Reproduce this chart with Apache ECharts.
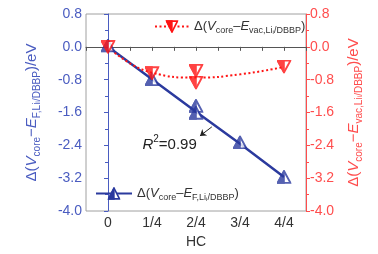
<!DOCTYPE html>
<html>
<head>
<meta charset="utf-8">
<script src="https://cdn.jsdelivr.net/npm/echarts@6/dist/echarts.min.js"></script>
<style>
  html, body { margin: 0; padding: 0; background: #fff; }
  #chart { width: 378px; height: 254px; }
</style>
</head>
<body>
<div id="chart"></div>
<script>
// HC tick labels (x positions 0..4)
var hcLabels = ["0", "1/4", "2/4", "3/4", "4/4"];
var hcPos = [0, 1, 2, 3, 4];

// Δ(Vcore - E_F) measured points (left axis)
var fermiX = [0, 1, 2, 2, 3, 4];
var fermiY = [0.03, -0.79, -1.44, -1.61, -2.33, -3.17];
// linear fit line through them
var fermiFit = [0, -0.79, -1.58, -2.36, -3.17];

// Δ(Vcore - E_vac) measured points (right axis)
var vacX = [0, 1, 2, 2, 4];
var vacY = [0, -0.64, -0.58, -0.87, -0.48];
// dotted fit curve
var vacFit = [0, -0.63, -0.75, -0.67, -0.49];

var blue = "#2b3a9e";
var blueAxis = "#4a5cc0";
var red = "#ff1414";
var redAxis = "#ff4d4d";

// half filled triangle markers (left half solid, right half white)
function halfTri(color, down) {
  var pts = down ? "1,1 13,1 7,12" : "7,1 13,12 1,12";
  var half = down ? "1,1 7,1 7,12" : "7,1 7,12 1,12";
  var svg = '<svg xmlns="http://www.w3.org/2000/svg" width="14" height="13" viewBox="0 0 14 13">' +
    '<polygon points="' + pts + '" fill="#fff" stroke="' + color + '" stroke-width="1.8"/>' +
    '<polygon points="' + half + '" fill="' + color + '" stroke="' + color + '" stroke-width="1.5"/>' +
    '</svg>';
  return "image://data:image/svg+xml;charset=utf-8," + encodeURIComponent(svg);
}
var blueSym = halfTri(blue, false);
var redSym = halfTri(red, true);

function pairs(xs, ys) {
  return xs.map(function (x, i) { return [x, ys[i]]; });
}

var subRich = {
  d: { fontSize: 15, lineHeight: 20, verticalAlign: "middle" },
  i: { fontSize: 15, fontStyle: "italic", lineHeight: 20, verticalAlign: "middle" },
  s: { fontSize: 10, lineHeight: 20, verticalAlign: "bottom" },
  ss: { fontSize: 7, lineHeight: 20, verticalAlign: "bottom" }
};
var legendRich = {
  d: { fontSize: 13, lineHeight: 18, verticalAlign: "middle" },
  i: { fontSize: 13, fontStyle: "italic", lineHeight: 18, verticalAlign: "middle" },
  s: { fontSize: 9, lineHeight: 18, verticalAlign: "bottom" },
  ss: { fontSize: 6, lineHeight: 18, verticalAlign: "bottom" }
};

function colored(rich, color) {
  var out = {};
  Object.keys(rich).forEach(function (k) {
    out[k] = Object.assign({}, rich[k], { color: color });
  });
  return out;
}

var chart = echarts.init(document.getElementById("chart"));

var yAxisBase = {
  type: "value",
  min: -4,
  max: 0.8,
  interval: 0.8,
  nameLocation: "middle",
  nameRotate: 90,
  splitLine: { show: false },
  axisTick: { show: true, length: 4, inside: false },
  minorTick: { show: true, splitNumber: 2, length: 3 },
  axisLabel: {
    fontSize: 14,
    margin: 4,
    formatter: function (v) { return v.toFixed(1); }
  }
};

var option = {
  animation: false,
  textStyle: { fontFamily: "Liberation Sans" },
  grid: {
    left: 86, right: 72, top: 14, bottom: 43,
    show: true, borderColor: "#a0a0a0", borderWidth: 1
  },
  xAxis: {
    type: "value",
    min: -0.5,
    max: 4.5,
    interval: 0.5,
    name: "HC",
    nameLocation: "middle",
    nameGap: 21,
    nameTextStyle: { fontSize: 14, color: "#333" },
    splitLine: { show: false },
    axisLine: { lineStyle: { color: "#555" } },
    axisTick: { length: 4, lineStyle: { color: "#555" } },
    axisLabel: {
      fontSize: 14,
      color: "#333",
      margin: 5,
      formatter: function (v) {
        var k = hcPos.indexOf(v);
        return k >= 0 ? hcLabels[k] : "";
      }
    }
  },
  yAxis: [
    Object.assign({}, yAxisBase, {
      position: "left",
      name: "{d|Δ(}{i|V}{s|core}{d|−}{i|E}{s|F,Li}{ss|i}{s|/DBBP}{d|)/eV}",
      nameGap: 44,
      nameTextStyle: { rich: colored(subRich, blueAxis) },
      axisLine: { show: true, lineStyle: { color: blueAxis } },
      axisLabel: Object.assign({}, yAxisBase.axisLabel, { color: blueAxis })
    }),
    Object.assign({}, yAxisBase, {
      position: "right",
      name: "{d|Δ(}{i|V}{s|core}{d|−}{i|E}{s|vac,Li}{ss|i}{s|/DBBP}{d|)/eV}",
      nameGap: 38,
      nameTextStyle: { rich: colored(subRich, redAxis) },
      axisLine: { show: true, lineStyle: { color: redAxis } },
      axisLabel: Object.assign({}, yAxisBase.axisLabel, { color: redAxis })
    })
  ],
  legend: [
    {
      data: ["vac"],
      left: 149, top: 15,
      itemWidth: 34, itemHeight: 16, itemGap: 4,
      formatter: function () {
        return "{d|Δ(}{i|V}{s|core}{d|–}{i|E}{s|vac,Li}{ss|i}{s|/DBBP}{d|)}";
      },
      textStyle: { rich: colored(legendRich, "#333") }
    },
    {
      data: ["fermi"],
      left: 90, top: 182,
      itemWidth: 36, itemHeight: 16, itemGap: 4,
      formatter: function () {
        return "{d|Δ(}{i|V}{s|core}{d|–}{i|E}{s|F,Li}{ss|i}{s|/DBBP}{d|)}";
      },
      textStyle: { rich: colored(legendRich, "#333") }
    }
  ],
  series: [
    {
      name: "fermi",
      type: "line",
      yAxisIndex: 0,
      data: pairs(hcPos, fermiFit),
      symbol: blueSym,
      showSymbol: false,
      color: blue,
      lineStyle: { color: blue, width: 2.5 },
      markLine: {
        silent: true,
        symbol: ["none", "arrow"],
        symbolSize: 6,
        label: { show: false },
        lineStyle: { color: "#222", width: 1, type: "solid" },
        data: [[{ coord: [2.36, -1.95] }, { coord: [2.09, -2.17] }]]
      },
      markPoint: {
        silent: true,
        symbol: "circle",
        symbolSize: 1,
        itemStyle: { color: "rgba(0,0,0,0)" },
        data: [{ coord: [1.4, -2.35] }],
        label: {
          show: true,
          position: "inside",
          formatter: "{i|R}{sup|2}{n|=0.99}",
          rich: {
            i: { fontSize: 15, fontStyle: "italic", color: "#222", verticalAlign: "bottom", lineHeight: 18 },
            sup: { fontSize: 10, color: "#222", verticalAlign: "top", lineHeight: 18 },
            n: { fontSize: 15, color: "#222", verticalAlign: "bottom", lineHeight: 18 }
          }
        }
      }
    },
    {
      name: "fermiPts",
      type: "scatter",
      yAxisIndex: 0,
      data: pairs(fermiX, fermiY),
      symbol: blueSym,
      symbolSize: [15, 14],
      z: 3
    },
    {
      name: "vac",
      type: "line",
      yAxisIndex: 1,
      smooth: true,
      data: pairs(hcPos, vacFit),
      symbol: redSym,
      showSymbol: false,
      color: red,
      lineStyle: { color: red, width: 2, type: [2, 2.5] }
    },
    {
      name: "vacPts",
      type: "scatter",
      yAxisIndex: 1,
      data: pairs(vacX, vacY),
      symbol: redSym,
      symbolSize: [15, 14],
      z: 4
    }
  ]
};

chart.setOption(option);
</script>
</body>
</html>
